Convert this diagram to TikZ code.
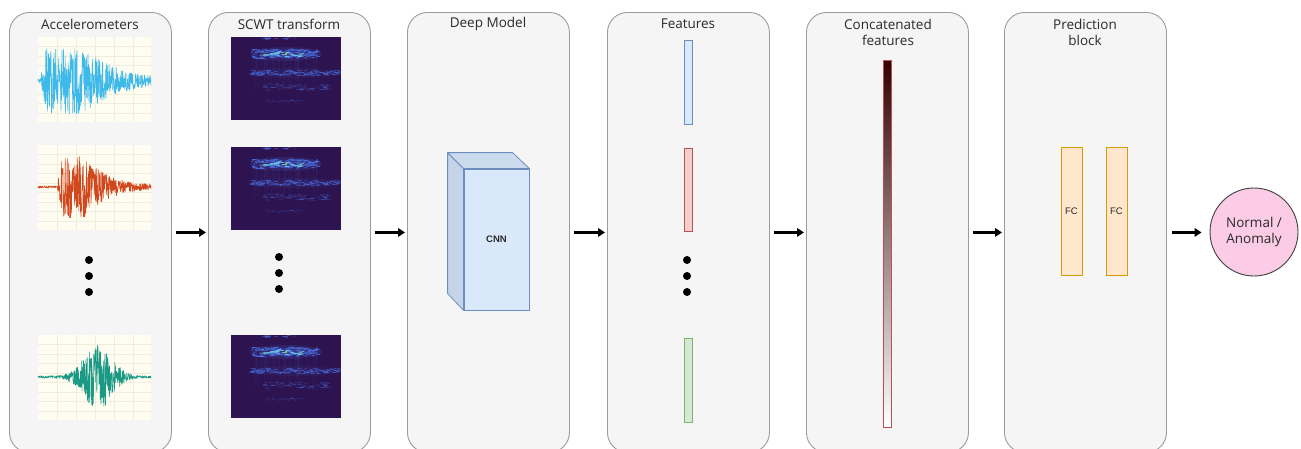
\documentclass[tikz,border=0pt]{standalone}
\usepackage{fontspec}
\setmainfont{Open Sans}
\newfontfamily\helv{Liberation Sans}
\usetikzlibrary{arrows.meta,shapes.geometric}
\definecolor{panelfill}{HTML}{F5F5F5}
\definecolor{panelline}{HTML}{9C9C9C}
\definecolor{txt}{HTML}{2A2A2A}
\definecolor{cream}{HTML}{FFFDF2}
\definecolor{gridc}{HTML}{EFEDDC}
\definecolor{wblue}{HTML}{3DB9EA}
\definecolor{wred}{HTML}{D2481E}
\definecolor{wteal}{HTML}{1A9985}
\definecolor{specbg}{HTML}{2D1450}
\definecolor{specblue}{HTML}{4A6FE0}
\definecolor{speccyan}{HTML}{6FD0F5}
\definecolor{bluef}{HTML}{DAE8FC}
\definecolor{bluel}{HTML}{6C8EBF}
\definecolor{bluesd}{HTML}{C6D4E9}
\definecolor{bluetp}{HTML}{CCDAEE}
\definecolor{redf}{HTML}{F8CECC}
\definecolor{redl}{HTML}{B85450}
\definecolor{greenf}{HTML}{D5E8D4}
\definecolor{greenl}{HTML}{82B366}
\definecolor{orangef}{HTML}{FFE6CC}
\definecolor{orangel}{HTML}{D79B00}
\definecolor{pinkf}{HTML}{FCCCE6}
\definecolor{darkred}{HTML}{330000}
\newcommand\wavebox[5]{%
  \fill[cream] (#1,#2) rectangle ++(113,85);
  \foreach \k in {1,...,5} \draw[gridc,line width=0.5pt] ({#1+\k*19},#2) -- ++(0,85);
  \foreach \k in {1,...,8} \draw[gridc,line width=0.5pt] (#1,{#2+\k*9.5}) -- ++(113,0);
  \draw[#3,line width=0.6pt,line join=round]
    plot[domain=0:1,samples=420,variable=\t] ({#1+113*\t},{#2+#4+(#5)*rand});
}
\newcommand\specband[7]{% x y xfrom xspan ycenter yspread count
  \foreach \i in {1,...,#7}{%
    \pgfmathsetmacro\xx{#1+110*(#3+#4*rnd)}
    \pgfmathsetmacro\yy{#2+#5+#6*rand}
    \draw (\xx,\yy) -- ++({1.5+4*rnd},{0.8*rand});
  }
}
\newcommand\specbox[2]{%
  \fill[specbg] (#1,#2) rectangle ++(110,83);
  \pgfmathsetseed{11}
  \begin{scope}
    \clip (#1,#2) rectangle ++(110,83);
    \fill[specblue,opacity=0.16] ({#1+55},{#2+17}) ellipse (36pt and 7pt);
    \fill[specblue,opacity=0.08] ({#1+64},{#2+36}) ellipse (44pt and 5pt);
    \foreach \i in {1,...,40}{%
      \pgfmathsetmacro\xx{#1+110*(0.2+0.6*rnd)}
      \draw[specblue,opacity=0.12,line width=0.5pt] (\xx,{#2+12}) -- ++({2*rand},{20+25*rnd});
    }
    \begin{scope}[specblue,opacity=0.75,line width=0.9pt]
      \specband{#1}{#2}{0.18}{0.6}{17}{4.5}{140}
    \end{scope}
    \begin{scope}[speccyan,opacity=0.8,line width=0.9pt]
      \specband{#1}{#2}{0.25}{0.4}{17}{2.5}{30}
    \end{scope}
    \fill[yellow!70!green] ({#1+55},{#2+17}) circle (1.2pt);
    \fill[yellow!60!green] ({#1+33},{#2+18}) circle (0.9pt);
    \begin{scope}[specblue,opacity=0.6,line width=0.7pt]
      \specband{#1}{#2}{0.15}{0.83}{36}{2.5}{120}
    \end{scope}
    \begin{scope}[specblue,opacity=0.4,line width=0.6pt]
      \specband{#1}{#2}{0.28}{0.6}{50}{3}{60}
    \end{scope}
    \begin{scope}[specblue,opacity=0.3,line width=0.5pt]
      \specband{#1}{#2}{0.3}{0.35}{64}{1.2}{18}
    \end{scope}
    \begin{scope}[specblue,opacity=0.6,line width=0.8pt]
      \specband{#1}{#2}{0.28}{0.3}{1.5}{1}{12}
    \end{scope}
  \end{scope}
}
\begin{document}
\begin{tikzpicture}[x=1pt,y=-1pt,
  panel/.style={draw=panelline,fill=panelfill,rounded corners=20pt,line width=0.9pt,
    minimum width=162pt,minimum height=440pt,anchor=north west,inner sep=0pt},
  title/.style={text=txt,font=\fontsize{13.5}{16}\selectfont,align=center,inner sep=0pt},
  bar/.style={draw,line width=0.8pt,minimum width=8pt,inner sep=0pt},
  fcbox/.style={draw=orangel,fill=orangef,line width=0.8pt,minimum width=21pt,minimum height=128pt,
    inner sep=0pt,text=txt,font=\helv\fontsize{9.5}{11}\selectfont},
  arr/.style={line width=2.5pt,-{Triangle[length=7pt,width=8.5pt]},shorten <=4pt,shorten >=2pt},
  dot/.style={fill=black}]
\clip (0,0) rectangle (1301,448);
\useasboundingbox (0,0) rectangle (1301,448);
\fill[white] (0,0) rectangle (1301,448);
% panels
\node[panel] (p1) at (9,12) {};
\node[panel] (p2) at (208,12) {};
\node[panel] (p3) at (407,12) {};
\node[panel] (p4) at (607,12) {};
\node[panel] (p5) at (806,12) {};
\node[panel] (p6) at (1004,12) {};
% titles
\node[title] (t1) at (90,24) {Accelerometers};
\node[title] (t2) at (289,24) {SCWT transform};
\node[title] (t3) at (488,24) {Deep Model};
\node[title] (t4) at (688,24) {Features};
\node[title] (t5) at (888,32) {Concatenated\\features};
\node[title] (t6) at (1085,32) {Prediction\\block};
% accelerometer waves
\pgfmathsetseed{5}
\wavebox{38}{37}{wblue}{44}{2+31*min(1,max(0,(\t-0.02)/0.05))*exp(-max(\t-0.42,0)*3.6)}
\pgfmathsetseed{8}
\wavebox{38}{145}{wred}{42}{1.2+30*min(1,max(0,(\t-0.17)/0.04))*exp(-max(\t-0.42,0)*5)}
\pgfmathsetseed{13}
\wavebox{38}{335}{wteal}{42}{1.2+32*exp(-((\t-0.53)/0.17)^2)}
\fill[dot] (89,260) circle (4pt);
\fill[dot] (89,276) circle (4pt);
\fill[dot] (89,292) circle (4pt);
% spectrograms
\specbox{231}{37}
\specbox{231}{147}
\specbox{231}{335}
\fill[dot] (279,257) circle (4pt);
\fill[dot] (279,273) circle (4pt);
\fill[dot] (279,289) circle (4pt);
% CNN
\node[draw=bluel,fill=bluef,line width=0.8pt,minimum width=65pt,minimum height=141pt,inner sep=0pt,
  text=txt,font=\helv\bfseries\fontsize{9.5}{11}\selectfont] (cnn) at (496.5,239.5) {CNN};
\filldraw[draw=bluel,fill=bluesd,line width=0.8pt,line join=round]
  (cnn.north west) -- ++(-16,-16) -- ++(0,141) -- (cnn.south west) -- cycle;
\filldraw[draw=bluel,fill=bluetp,line width=0.8pt,line join=round]
  (cnn.north west) -- ++(-16,-16) -- ++(65,0) -- (cnn.north east) -- cycle;
% features
\node[bar,draw=bluel,fill=bluef,minimum height=84pt] (f1) at (688,82) {};
\node[bar,draw=redl,fill=redf,minimum height=83pt] (f2) at (688,189.5) {};
\node[bar,draw=greenl,fill=greenf,minimum height=84pt] (f3) at (688,380) {};
\fill[dot] (687,260) circle (4pt);
\fill[dot] (687,276) circle (4pt);
\fill[dot] (687,292) circle (4pt);
% concatenated
\node[bar,draw=redl,top color=darkred,bottom color=white,minimum height=367pt] (cf) at (887,243.5) {};
% FC
\node[fcbox] (fc1) at (1071.5,211) {FC};
\node[fcbox] (fc2) at (1116.5,211) {FC};
% output
\node[circle,draw=black!75,fill=pinkf,line width=0.9pt,minimum size=88pt,inner sep=0pt,align=center,
  text=txt,font=\fontsize{13.5}{16}\selectfont] (out) at (1254,232) {Normal /\\Anomaly};
% arrows
\draw[arr] (p1.east) -- (p2.west);
\draw[arr] (p2.east) -- (p3.west);
\draw[arr] (p3.east) -- (p4.west);
\draw[arr] (p4.east) -- (p5.west);
\draw[arr] (p5.east) -- (p6.west);
\draw[arr,shorten <=5pt,shorten >=8pt] (p6.east) -- (p6.east -| out.west);
\end{tikzpicture}
\end{document}
